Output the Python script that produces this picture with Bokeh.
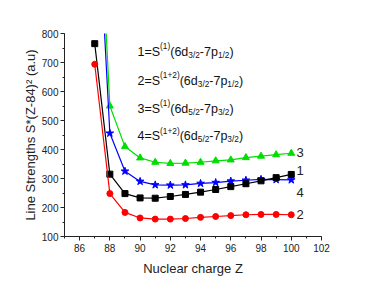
from bokeh.plotting import figure
from bokeh.models import ColumnDataSource, Range1d, FixedTicker
from bokeh.embed import file_html
from bokeh.resources import INLINE
from bokeh.core.properties import value

# ---- data ----
z = [87, 88, 89, 90, 91, 92, 93, 94, 95, 96, 97, 98, 99, 100]
s1 = [765, 315, 248, 233, 232, 238, 245, 253, 262, 272, 282, 292, 303, 314]   # black squares
s2 = [694, 248, 183, 164, 160, 160, 162, 166, 169, 172, 175, 176, 176, 175]   # red circles
s3 = [1590, 550, 410, 371, 356, 352, 353, 356, 361, 364, 372, 377, 382, 387]  # green triangles
s4 = [1440, 456, 325, 290, 278, 277, 278, 283, 286, 291, 294, 297, 296, 295]  # blue stars

x_ticks = [86, 88, 90, 92, 94, 96, 98, 100, 102]
y_ticks = [100, 200, 300, 400, 500, 600, 700, 800]

series_names = ["1", "2", "3", "4"]
series_label_y = [326, 175, 390, 252]
series_label_x = 100.35

# legend text lines (piece, kind)
legend_lines = [
    [("1=S", "n"), ("(1)", "sup"), ("(6d", "n"), ("3/2", "sub"), ("-7p", "n"), ("1/2", "sub"), (")", "n")],
    [("2=S", "n"), ("(1+2)", "sup"), ("(6d", "n"), ("3/2", "sub"), ("-7p", "n"), ("1/2", "sub"), (")", "n")],
    [("3=S", "n"), ("(1)", "sup"), ("(6d", "n"), ("5/2", "sub"), ("-7p", "n"), ("3/2", "sub"), (")", "n")],
    [("4=S", "n"), ("(1+2)", "sup"), ("(6d", "n"), ("5/2", "sub"), ("-7p", "n"), ("3/2", "sub"), (")", "n")],
]
legend_x = 89.83
legend_y = [737, 637, 541, 445]

FONT = "Liberation Sans"
# Arial/Liberation Sans advance widths per em
W = {"0": .556, "1": .556, "2": .556, "3": .556, "4": .556, "5": .556, "6": .556,
     "7": .556, "8": .556, "9": .556, "=": .584, "S": .667, "(": .333, ")": .333,
     "d": .556, "p": .556, "-": .333, "/": .278, "+": .584}
MAIN = 12.5
SMALL = 8.3

p = figure(width=366, height=278, x_range=Range1d(85, 102), y_range=Range1d(100, 800),
           output_backend="svg", toolbar_location=None,
           min_border_left=64, min_border_right=45, min_border_top=33, min_border_bottom=42)
p.outline_line_color = None
p.grid.visible = False
p.background_fill_color = "white"
p.border_fill_color = "white"

for ax in (p.xaxis[0], p.yaxis[0]):
    ax.major_tick_in = 0
    ax.major_tick_out = 4
    ax.minor_tick_in = 0
    ax.minor_tick_out = 2
    ax.axis_line_color = "#222222"
    ax.major_tick_line_color = "#222222"
    ax.minor_tick_line_color = "#222222"
    ax.major_label_text_font = FONT
    ax.major_label_text_font_size = "10px"
    ax.major_label_text_color = "#222222"
    ax.axis_label_text_font = FONT
    ax.axis_label_text_font_size = "13px"
    ax.axis_label_text_font_style = "normal"
    ax.axis_label_text_color = "#222222"

p.xaxis.ticker = FixedTicker(ticks=x_ticks, minor_ticks=list(range(85, 103)))
p.yaxis.ticker = FixedTicker(ticks=y_ticks, minor_ticks=list(range(100, 801, 50)))
p.xaxis.axis_label = "Nuclear charge Z"
p.yaxis.axis_label = "Line Strengths S*(Z-84)\u00b2 (a.u)"
p.xaxis.major_label_standoff = 3
p.yaxis.major_label_standoff = 2
p.xaxis.axis_label_standoff = 6
p.yaxis.axis_label_standoff = 1

src = ColumnDataSource(dict(z=z, s1=s1, s2=s2, s3=s3, s4=s4))
p.line("z", "s3", source=src, color="#00dd00", line_width=1.2)
p.scatter("z", "s3", source=src, marker="triangle", size=7, color="#00dd00")
p.line("z", "s4", source=src, color="#0000ff", line_width=1.2)
p.scatter("z", "s4", source=src, marker="star", size=8, color="#0000ff")
p.line("z", "s1", source=src, color="black", line_width=1.2)
p.scatter("z", "s1", source=src, marker="square", size=6, color="black")
p.line("z", "s2", source=src, color="#ff0000", line_width=1.2)
p.scatter("z", "s2", source=src, marker="circle", size=6, color="#ff0000")

# series number labels
p.text(x=[series_label_x] * 4, y=series_label_y, text=series_names,
       text_font=value(FONT), text_font_size="13px", text_color="#222222",
       text_align="left", text_baseline="middle")

# legend formula text pieces
xs, ys, ts, xo, yo, fs = [], [], [], [], [], []
for line, ly in zip(legend_lines, legend_y):
    cx = 0.0
    for piece, kind in line:
        size = MAIN if kind == "n" else SMALL
        xs.append(legend_x)
        ys.append(ly)
        ts.append(piece)
        xo.append(cx)
        yo.append({"n": 0, "sup": -5.5, "sub": 3}[kind])
        fs.append(f"{size}px")
        cx += sum(W.get(c, .556) for c in piece) * size
lsrc = ColumnDataSource(dict(x=xs, y=ys, t=ts, xo=xo, yo=yo, fs=fs))
p.text(x="x", y="y", text="t", x_offset="xo", y_offset="yo", text_font_size="fs",
       source=lsrc, text_font=value(FONT), text_color="#111111",
       text_align="left", text_baseline="alphabetic")

open("out.html", "w").write(file_html(p, INLINE))
